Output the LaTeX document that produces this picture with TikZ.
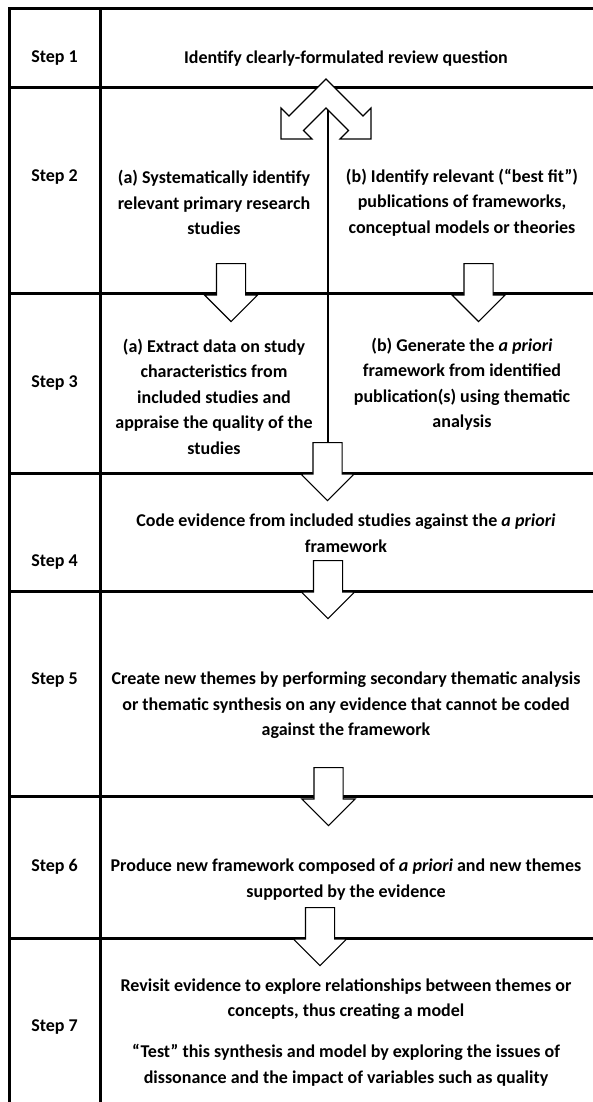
\documentclass[tikz,border=0pt]{standalone}
\usepackage{fontspec}
\setmainfont{Carlito}
\usetikzlibrary{shapes.arrows,positioning}

\begin{document}
\begin{tikzpicture}[
    x=1pt, y=-1pt,
    font=\fontsize{18}{25.5}\selectfont\bfseries,
    steplabel/.style={inner sep=0pt, anchor=center},
    cell/.style={inner sep=0pt, align=center},
    rule/.style={line width=3pt},
    blockarrow/.style={single arrow, draw, fill=white, line width=1.2pt, rotate=-90, anchor=tail,
        minimum height=58pt, minimum width=52pt, single arrow head extend=12pt, single arrow tip angle=90,
        inner xsep=0pt, inner ysep=14pt}
]
    \useasboundingbox (0,0) rectangle (593,1102);

    % Table rules
    \foreach \y in {9,88,293,473,591,796,938}
        \draw [rule] (9,\y) -- (600,\y);
    \draw [rule] (9,7.5) -- (9,1110);
    \draw [rule] (100,7.5) -- (100,1110);

    % Step labels
    \node (step1) [steplabel] at (54.5,58) {Step 1};
    \node (step2) [steplabel] at (54.5,177) {Step 2};
    \node (step3) [steplabel] at (54.5,383) {Step 3};
    \node (step4) [steplabel] at (54.5,562) {Step 4};
    \node (step5) [steplabel] at (54.5,680) {Step 5};
    \node (step6) [steplabel] at (54.5,867) {Step 6};
    \node (step7) [steplabel] at (54.5,1027) {Step 7};

    % Cell texts
    \node (question) [cell] at (346,59) {Identify clearly-formulated review question};
    \node (search) [cell] at (214,202.5) {(a) Systematically identify\\relevant primary research\\studies};
    \node (bestfit) [cell] at (462,202.5) {(b) Identify relevant (“best fit”)\\publications of frameworks,\\conceptual models or theories};
    \node (extract) [cell] at (214,396.5) {(a) Extract data on study\\characteristics from\\included studies and\\appraise the quality of the\\studies};
    \node (apriori) [cell] at (462,384) {(b) Generate the \textit{a priori}\\framework from identified\\publication(s) using thematic\\analysis};
    \node (coding) [cell] at (346,533) {Code evidence from included studies against the \textit{a priori}\\framework};
    \node (themes) [cell] at (346,705.5) {Create new themes by performing secondary thematic analysis\\or thematic synthesis on any evidence that cannot be coded\\against the framework};
    \node (newframe) [cell] at (346,879.5) {Produce new framework composed of \textit{a priori} and new themes\\supported by the evidence};
    \node (model) [cell] at (346,999) {Revisit evidence to explore relationships between themes or\\concepts, thus creating a model};
    \node (test) [cell] at (346,1065.5) {“Test” this synthesis and model by exploring the issues of\\dissonance and the impact of variables such as quality};

    % Block arrows
    \node (a23l) [blockarrow] at (231,263) {};
    \node (a23r) [blockarrow] at (478.5,263) {};
    \node (a34) [blockarrow] at (327.5,442) {};
    \node (a45) [blockarrow] at (328,560) {};
    \node (a56) [blockarrow] at (328.5,767) {};
    \node (a67) [blockarrow] at (320,907) {};

    % Split arrow from step 1 and divider of steps 2 and 3
    \coordinate (split) at (327.5,108);
    \draw [line width=2pt] (split) -- (a34.tail);
    \draw [fill=white, line width=1.2pt, line join=miter]
        (326,79) -- (289,116) -- (281,108) -- (281,139) -- (312,139) -- (303.5,130.5)
        -- (326,108) -- (348.5,130.5) -- (340,139) -- (371,139) -- (371,108) -- (363,116) -- cycle;

\end{tikzpicture}
\end{document}
